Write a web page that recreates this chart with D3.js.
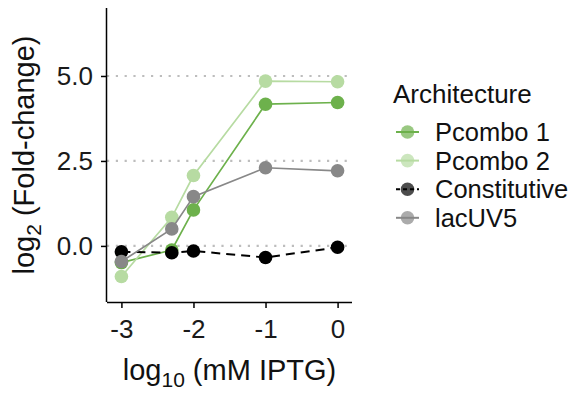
<!DOCTYPE html>
<html>
<head>
<meta charset="utf-8">
<script src="https://cdn.jsdelivr.net/npm/d3@7"></script>
<style>
  body { margin: 0; background: #fff; }
  svg text { font-family: "Liberation Sans", Arial, sans-serif; }
  .axis path, .axis line { stroke: #000; stroke-width: 1.5; }
  .axis text { font-size: 26px; fill: #1a1a1a; }
</style>
</head>
<body>
<div class="chart"></div>
<script>
// log10 of IPTG (mM) concentrations
const iptg = [-3, -2.301, -2, -1, 0];
const architectures = ["Pcombo 1", "Pcombo 2", "Constitutive", "lacUV5"];
const pcombo1 = [-0.49, -0.12, 1.06, 4.17, 4.22];
const pcombo2 = [-0.9, 0.84, 2.07, 4.85, 4.83];
const constitutive = [-0.17, -0.2, -0.15, -0.34, -0.04];
const lacuv5 = [-0.46, 0.5, 1.45, 2.3, 2.21];
const xTicks = [-3, -2, -1, 0];
const yTicks = [0, 2.5, 5];

const colors = ["#6db14c", "#b7dba2", "#000000", "#888888"];
const dashes = [null, null, "9,6", null];

const seriesList = [pcombo1, pcombo2, constitutive, lacuv5].map((vals, i) => ({
    name: architectures[i],
    values: vals.map((v, j) => ({ x: iptg[j], y: v }))
}));

const margin = { top: 8, right: 235, bottom: 92, left: 107 };
const width = 587 - margin.left - margin.right,
    height = 394 - margin.top - margin.bottom;

const svg = d3.select(".chart")
    .append("svg")
    .attr("width", 587)
    .attr("height", 394);

const g = svg.append("g")
    .attr("transform", `translate(${margin.left},${margin.top})`);

const xScale = d3.scaleLinear().domain([-3.2, 0.2]).range([0, width]);
const yScale = d3.scaleLinear().domain([-1.65, 7.0]).range([height, 0]);

// dotted reference lines
g.selectAll(".hline")
    .data(yTicks)
    .enter()
    .append("line")
    .attr("x1", 0)
    .attr("x2", width)
    .attr("y1", (d) => yScale(d))
    .attr("y2", (d) => yScale(d))
    .attr("stroke", "#bdbdbd")
    .attr("stroke-width", 2.2)
    .attr("stroke-dasharray", "2.2,6.6");

const line = d3.line().x((d) => xScale(d.x)).y((d) => yScale(d.y));

// lines and points, in legend order
seriesList.forEach((s, i) => {
    const sg = g.append("g");
    sg.append("path")
        .datum(s.values)
        .attr("d", line)
        .attr("fill", "none")
        .attr("stroke", colors[i])
        .attr("stroke-width", i === 2 ? 2 : 1.7)
        .attr("stroke-dasharray", dashes[i]);
    sg.selectAll("circle")
        .data(s.values)
        .enter()
        .append("circle")
        .attr("cx", (d) => xScale(d.x))
        .attr("cy", (d) => yScale(d.y))
        .attr("r", 6.8)
        .attr("fill", colors[i]);
});

// axes
const xAxis = d3.axisBottom(xScale).tickValues(xTicks).tickSize(6).tickPadding(12)
    .tickFormat(d3.format("d"));
const yAxis = d3.axisLeft(yScale).tickValues(yTicks).tickSize(6).tickPadding(8)
    .tickFormat(d3.format(".1f"));

g.append("g")
    .attr("class", "axis x-axis")
    .attr("transform", `translate(0,${height})`)
    .call(xAxis)
    .call((a) => a.select(".domain").attr("d", `M0,0.5H${width}`));

g.append("g")
    .attr("class", "axis y-axis")
    .call(yAxis)
    .call((a) => a.select(".domain").attr("d", `M-0.5,0V${height}`));

g.selectAll(".x-axis text").text((d) => (d < 0 ? "-" + Math.abs(d) : d));

// axis titles
const xTitle = svg.append("text")
    .attr("x", margin.left + width / 2)
    .attr("y", 380)
    .attr("text-anchor", "middle")
    .attr("font-size", 29)
    .attr("fill", "#111");
xTitle.append("tspan").text("log");
xTitle.append("tspan").attr("font-size", 21).attr("dy", 7).text("10");
xTitle.append("tspan").attr("dy", -7).text(" (mM IPTG)");

const yTitle = svg.append("text")
    .attr("transform", `translate(34,${margin.top + height / 2}) rotate(-90)`)
    .attr("text-anchor", "middle")
    .attr("font-size", 29)
    .attr("fill", "#111");
yTitle.append("tspan").text("log");
yTitle.append("tspan").attr("font-size", 21).attr("dy", 7).text("2");
yTitle.append("tspan").attr("dy", -7).text(" (Fold-change)");

// legend
const legend = svg.append("g").attr("transform", "translate(393,0)");
legend.append("text")
    .attr("x", 0)
    .attr("y", 103)
    .attr("font-size", 26)
    .attr("fill", "#111")
    .text("Architecture");

const items = legend.selectAll(".item")
    .data(architectures)
    .enter()
    .append("g")
    .attr("transform", (d, i) => `translate(0,${132 + i * 28.6})`);

items.append("line")
    .attr("x1", 3)
    .attr("x2", 26)
    .attr("stroke", (d, i) => colors[i])
    .attr("stroke-width", 2)
    .attr("stroke-dasharray", (d, i) => (dashes[i] ? "4,3" : null));
items.append("circle")
    .attr("cx", 14.5)
    .attr("r", 6.8)
    .attr("fill", (d, i) => colors[i])
    .attr("opacity", 0.7);
items.append("text")
    .attr("x", 42)
    .attr("dy", "0.36em")
    .attr("font-size", 25.5)
    .attr("fill", "#111")
    .text((d) => d);
</script>
</body>
</html>
